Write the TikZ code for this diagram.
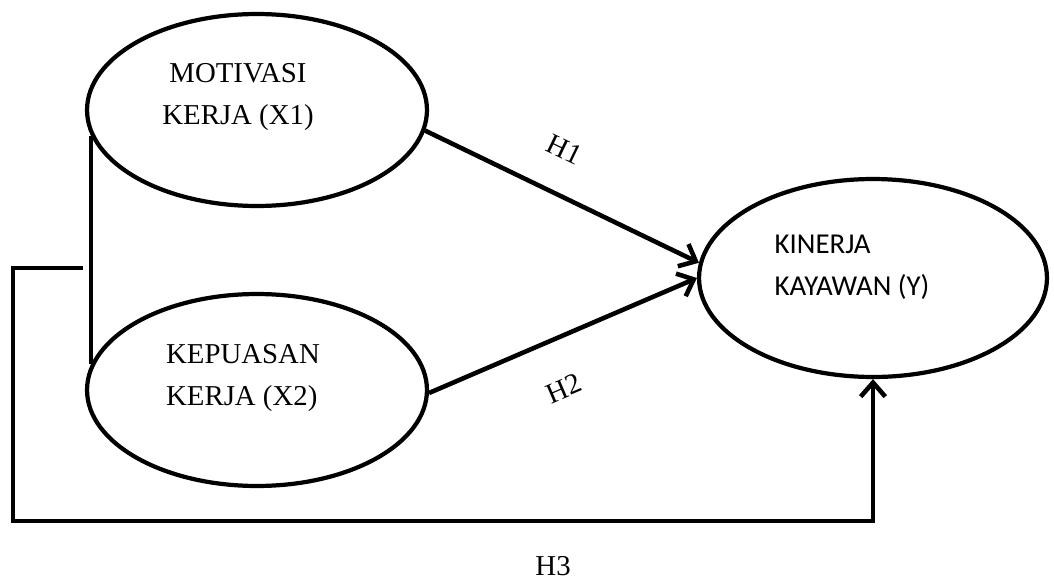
\documentclass[tikz,border=0pt]{standalone}
\usepackage{fontspec}
\setmainfont{Liberation Serif}
\newfontfamily\calibri{Carlito}
\usetikzlibrary{arrows.meta, shapes.geometric}

\begin{document}
\begin{tikzpicture}[x=0.02cm, y=-0.02cm, line width=2.6pt,
    var/.style={ellipse, draw, line width=2.4pt, minimum width=6.8cm, minimum height=3.84cm},
    txt/.style={font=\fontsize{16.4}{23.8}\selectfont, inner sep=0pt},
    arr/.style={-{Straight Barb[length=8pt, width=14pt, line width=2.6pt]}}]
  \useasboundingbox (0,0) rectangle (1054,581);
  % the three variables
  \node[var] (mot) at (257,110) {};
  \node[var] (kep) at (257,390) {};
  \node[var, minimum width=6.96cm, minimum height=3.96cm] (kin) at (873,278) {};
  \node[txt, align=center] (motT) at ([shift={(-19,-13)}]mot.center) {MOTIVASI\\KERJA (X1)};
  \node[txt, align=left] (kepT) at ([shift={(-14,-12)}]kep.center) {KEPUASAN\\KERJA (X2)};
  \node[txt, align=left, font=\calibri\fontsize{16.4}{23.8}\selectfont] (kinT) at ([shift={(-21,-11)}]kin.center) {KINERJA\\KAYAWAN (Y)};
  % links
  \draw (mot.189) -- (kep.171);
  \draw[arr] (mot.-7) -- (kin.175)
    node[pos=0.44, sloped, above=18pt, txt] (h1) {H1};
  \draw[arr] (kep.-1) -- (kin.180)
    node[pos=0.43, sloped, below=21pt, txt] (h2) {H2};
  \coordinate (stub) at (83,268);
  \coordinate (corner) at (13,521);
  \draw[arr] (stub) -| (corner) -| (kin.south)
    node[pos=0.314, below=19pt, txt] (h3) {H3};
\end{tikzpicture}
\end{document}
